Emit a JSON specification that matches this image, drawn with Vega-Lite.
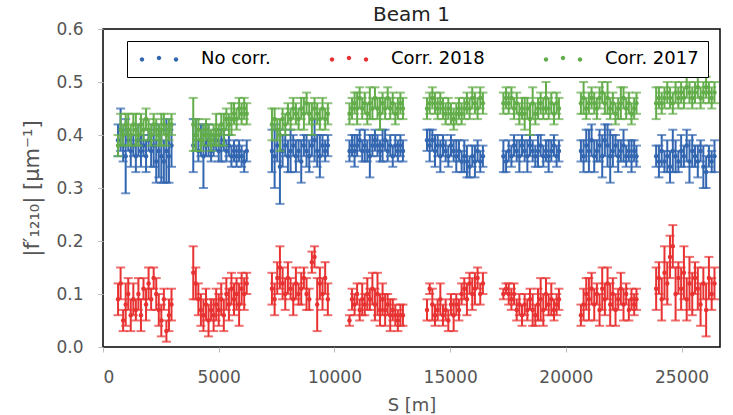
{
  "$schema": "https://vega.github.io/schema/vega-lite/v6.json",
  "width": 617,
  "height": 318,
  "autosize": {"type": "none"},
  "padding": {"left": 103, "top": 29, "right": 13, "bottom": 68},
  "title": {"text": "Beam 1", "fontSize": 20, "fontWeight": "normal", "color": "#222", "offset": -5, "font": "DejaVu Sans"},
  "config": {
    "font": "DejaVu Sans",
    "view": {"stroke": "black", "strokeWidth": 1.5},
    "axis": {"grid": false, "domain": false, "labelFontSize": 17, "labelColor": "#555", "tickColor": "#bbb", "tickSize": 5, "labelPadding": 15, "titleFontSize": 18, "titleColor": "#555", "titleFontWeight": "normal", "labelFont": "DejaVu Sans", "titleFont": "DejaVu Sans"},
    "legend": {
      "orient": "none", "legendX": 24, "legendY": 12, "direction": "horizontal",
      "padding": 9, "strokeColor": "black", "fillColor": "white",
      "labelFontSize": 18, "labelColor": "black", "labelFont": "DejaVu Sans",
      "symbolType": "M-0.87,0.08a0.37,0.37 0 1,0 0.74,0a0.37,0.37 0 1,0 -0.74,0M1.96,-0.17a0.37,0.37 0 1,0 0.74,0a0.37,0.37 0 1,0 -0.74,0M4.8,0.08a0.37,0.37 0 1,0 0.74,0a0.37,0.37 0 1,0 -0.74,0Z",
      "symbolSize": 144, "labelOffset": 47, "columnPadding": 55, "symbolStrokeWidth": 0, "symbolOpacity": 1
    }
  },
  "data": {"values": [
    {"s":650,"n":0.39,"ne":0.03,"r":0.09,"re":0.03,"g":0.38,"ge":0.02},
    {"s":760,"n":0.41,"ne":0.04,"r":0.12,"re":0.03,"g":0.41,"ge":0.03},
    {"s":870,"n":0.38,"ne":0.03,"r":0.05,"re":0.02,"g":0.40,"ge":0.02},
    {"s":980,"n":0.36,"ne":0.07,"r":0.08,"re":0.04,"g":0.42,"ge":0.02},
    {"s":1090,"n":0.39,"ne":0.02,"r":0.10,"re":0.03,"g":0.41,"ge":0.03},
    {"s":1200,"n":0.37,"ne":0.03,"r":0.06,"re":0.03,"g":0.40,"ge":0.02},
    {"s":1310,"n":0.38,"ne":0.02,"r":0.09,"re":0.03,"g":0.42,"ge":0.02},
    {"s":1420,"n":0.36,"ne":0.03,"r":0.07,"re":0.02,"g":0.41,"ge":0.03},
    {"s":1530,"n":0.39,"ne":0.03,"r":0.10,"re":0.03,"g":0.40,"ge":0.02},
    {"s":1640,"n":0.37,"ne":0.03,"r":0.06,"re":0.03,"g":0.42,"ge":0.02},
    {"s":1750,"n":0.38,"ne":0.02,"r":0.11,"re":0.02,"g":0.41,"ge":0.02},
    {"s":1860,"n":0.36,"ne":0.03,"r":0.08,"re":0.03,"g":0.43,"ge":0.02},
    {"s":1970,"n":0.39,"ne":0.02,"r":0.12,"re":0.03,"g":0.41,"ge":0.02},
    {"s":2080,"n":0.37,"ne":0.03,"r":0.09,"re":0.02,"g":0.40,"ge":0.02},
    {"s":2190,"n":0.38,"ne":0.04,"r":0.13,"re":0.02,"g":0.42,"ge":0.02},
    {"s":2300,"n":0.35,"ne":0.04,"r":0.10,"re":0.03,"g":0.41,"ge":0.02},
    {"s":2410,"n":0.37,"ne":0.05,"r":0.07,"re":0.03,"g":0.40,"ge":0.02},
    {"s":2520,"n":0.36,"ne":0.05,"r":0.05,"re":0.03,"g":0.41,"ge":0.03},
    {"s":2630,"n":0.35,"ne":0.04,"r":0.09,"re":0.02,"g":0.42,"ge":0.02},
    {"s":2740,"n":0.37,"ne":0.06,"r":0.03,"re":0.02,"g":0.40,"ge":0.02},
    {"s":2850,"n":0.36,"ne":0.05,"r":0.06,"re":0.03,"g":0.41,"ge":0.02},
    {"s":2960,"n":0.38,"ne":0.04,"r":0.08,"re":0.03,"g":0.42,"ge":0.02},

    {"s":3900,"n":0.38,"ne":0.05,"r":0.14,"re":0.05,"g":0.42,"ge":0.05},
    {"s":4010,"n":0.40,"ne":0.03,"r":0.12,"re":0.03,"g":0.40,"ge":0.03},
    {"s":4120,"n":0.37,"ne":0.02,"r":0.09,"re":0.03,"g":0.41,"ge":0.02},
    {"s":4230,"n":0.39,"ne":0.03,"r":0.07,"re":0.03,"g":0.39,"ge":0.02},
    {"s":4340,"n":0.36,"ne":0.06,"r":0.06,"re":0.03,"g":0.40,"ge":0.02},
    {"s":4450,"n":0.38,"ne":0.02,"r":0.08,"re":0.03,"g":0.41,"ge":0.02},
    {"s":4560,"n":0.39,"ne":0.03,"r":0.05,"re":0.03,"g":0.40,"ge":0.02},
    {"s":4670,"n":0.37,"ne":0.02,"r":0.07,"re":0.02,"g":0.39,"ge":0.02},
    {"s":4780,"n":0.38,"ne":0.02,"r":0.06,"re":0.03,"g":0.40,"ge":0.02},
    {"s":4890,"n":0.39,"ne":0.02,"r":0.08,"re":0.03,"g":0.41,"ge":0.03},
    {"s":5000,"n":0.37,"ne":0.02,"r":0.07,"re":0.03,"g":0.40,"ge":0.02},
    {"s":5110,"n":0.38,"ne":0.03,"r":0.09,"re":0.03,"g":0.42,"ge":0.02},
    {"s":5220,"n":0.39,"ne":0.02,"r":0.06,"re":0.03,"g":0.41,"ge":0.03},
    {"s":5330,"n":0.37,"ne":0.02,"r":0.10,"re":0.03,"g":0.43,"ge":0.02},
    {"s":5440,"n":0.38,"ne":0.02,"r":0.08,"re":0.03,"g":0.42,"ge":0.02},
    {"s":5550,"n":0.36,"ne":0.02,"r":0.11,"re":0.03,"g":0.43,"ge":0.03},
    {"s":5660,"n":0.37,"ne":0.02,"r":0.09,"re":0.03,"g":0.44,"ge":0.02},
    {"s":5770,"n":0.36,"ne":0.02,"r":0.10,"re":0.03,"g":0.43,"ge":0.02},
    {"s":5880,"n":0.37,"ne":0.02,"r":0.08,"re":0.04,"g":0.45,"ge":0.02},
    {"s":5990,"n":0.36,"ne":0.02,"r":0.11,"re":0.03,"g":0.44,"ge":0.02},
    {"s":6100,"n":0.35,"ne":0.02,"r":0.10,"re":0.03,"g":0.45,"ge":0.02},
    {"s":6210,"n":0.37,"ne":0.02,"r":0.12,"re":0.02,"g":0.44,"ge":0.02},

    {"s":7300,"n":0.37,"ne":0.04,"r":0.11,"re":0.03,"g":0.42,"ge":0.03},
    {"s":7415,"n":0.36,"ne":0.06,"r":0.09,"re":0.03,"g":0.43,"ge":0.02},
    {"s":7530,"n":0.38,"ne":0.03,"r":0.13,"re":0.03,"g":0.41,"ge":0.02},
    {"s":7645,"n":0.34,"ne":0.07,"r":0.15,"re":0.04,"g":0.40,"ge":0.03},
    {"s":7760,"n":0.37,"ne":0.03,"r":0.12,"re":0.03,"g":0.43,"ge":0.02},
    {"s":7875,"n":0.38,"ne":0.02,"r":0.10,"re":0.03,"g":0.42,"ge":0.02},
    {"s":7990,"n":0.36,"ne":0.03,"r":0.13,"re":0.03,"g":0.44,"ge":0.02},
    {"s":8105,"n":0.37,"ne":0.04,"r":0.11,"re":0.02,"g":0.43,"ge":0.02},
    {"s":8220,"n":0.38,"ne":0.02,"r":0.09,"re":0.03,"g":0.45,"ge":0.02},
    {"s":8335,"n":0.36,"ne":0.03,"r":0.12,"re":0.03,"g":0.44,"ge":0.02},
    {"s":8450,"n":0.37,"ne":0.02,"r":0.10,"re":0.02,"g":0.43,"ge":0.02},
    {"s":8565,"n":0.35,"ne":0.04,"r":0.11,"re":0.03,"g":0.45,"ge":0.02},
    {"s":8680,"n":0.38,"ne":0.02,"r":0.13,"re":0.02,"g":0.44,"ge":0.03},
    {"s":8795,"n":0.37,"ne":0.03,"r":0.10,"re":0.03,"g":0.46,"ge":0.02},
    {"s":8910,"n":0.36,"ne":0.03,"r":0.09,"re":0.02,"g":0.44,"ge":0.02},
    {"s":9025,"n":0.38,"ne":0.02,"r":0.16,"re":0.02,"g":0.43,"ge":0.03},
    {"s":9140,"n":0.39,"ne":0.04,"r":0.17,"re":0.02,"g":0.45,"ge":0.02},
    {"s":9255,"n":0.37,"ne":0.03,"r":0.08,"re":0.05,"g":0.44,"ge":0.02},
    {"s":9370,"n":0.36,"ne":0.04,"r":0.12,"re":0.03,"g":0.43,"ge":0.02},
    {"s":9485,"n":0.38,"ne":0.02,"r":0.10,"re":0.03,"g":0.45,"ge":0.02},
    {"s":9600,"n":0.37,"ne":0.02,"r":0.13,"re":0.03,"g":0.43,"ge":0.02},
    {"s":9715,"n":0.38,"ne":0.02,"r":0.09,"re":0.03,"g":0.44,"ge":0.02},

    {"s":10650,"n":0.37,"ne":0.02,"r":0.05,"re":0.01,"g":0.44,"ge":0.02},
    {"s":10760,"n":0.38,"ne":0.02,"r":0.09,"re":0.02,"g":0.45,"ge":0.02},
    {"s":10870,"n":0.37,"ne":0.03,"r":0.08,"re":0.02,"g":0.46,"ge":0.02},
    {"s":10980,"n":0.38,"ne":0.02,"r":0.10,"re":0.02,"g":0.45,"ge":0.03},
    {"s":11090,"n":0.39,"ne":0.02,"r":0.07,"re":0.02,"g":0.47,"ge":0.02},
    {"s":11200,"n":0.37,"ne":0.02,"r":0.09,"re":0.03,"g":0.45,"ge":0.02},
    {"s":11310,"n":0.38,"ne":0.03,"r":0.08,"re":0.02,"g":0.46,"ge":0.02},
    {"s":11420,"n":0.37,"ne":0.02,"r":0.10,"re":0.03,"g":0.44,"ge":0.02},
    {"s":11530,"n":0.36,"ne":0.04,"r":0.09,"re":0.02,"g":0.46,"ge":0.03},
    {"s":11640,"n":0.38,"ne":0.02,"r":0.11,"re":0.03,"g":0.45,"ge":0.02},
    {"s":11750,"n":0.39,"ne":0.02,"r":0.08,"re":0.03,"g":0.47,"ge":0.02},
    {"s":11860,"n":0.38,"ne":0.02,"r":0.10,"re":0.04,"g":0.45,"ge":0.02},
    {"s":11970,"n":0.37,"ne":0.02,"r":0.07,"re":0.03,"g":0.44,"ge":0.03},
    {"s":12080,"n":0.38,"ne":0.03,"r":0.09,"re":0.03,"g":0.46,"ge":0.02},
    {"s":12190,"n":0.39,"ne":0.02,"r":0.07,"re":0.03,"g":0.45,"ge":0.02},
    {"s":12300,"n":0.37,"ne":0.02,"r":0.08,"re":0.02,"g":0.47,"ge":0.02},
    {"s":12410,"n":0.38,"ne":0.02,"r":0.06,"re":0.03,"g":0.45,"ge":0.02},
    {"s":12520,"n":0.36,"ne":0.02,"r":0.07,"re":0.02,"g":0.46,"ge":0.02},
    {"s":12630,"n":0.38,"ne":0.02,"r":0.06,"re":0.02,"g":0.44,"ge":0.02},
    {"s":12740,"n":0.37,"ne":0.02,"r":0.05,"re":0.02,"g":0.45,"ge":0.02},
    {"s":12850,"n":0.38,"ne":0.02,"r":0.06,"re":0.02,"g":0.46,"ge":0.02},
    {"s":12960,"n":0.37,"ne":0.02,"r":0.06,"re":0.02,"g":0.45,"ge":0.02},

    {"s":14000,"n":0.39,"ne":0.02,"r":0.07,"re":0.02,"g":0.45,"ge":0.02},
    {"s":14115,"n":0.38,"ne":0.03,"r":0.11,"re":0.01,"g":0.46,"ge":0.02},
    {"s":14230,"n":0.39,"ne":0.02,"r":0.08,"re":0.03,"g":0.47,"ge":0.02},
    {"s":14345,"n":0.37,"ne":0.03,"r":0.06,"re":0.02,"g":0.46,"ge":0.02},
    {"s":14460,"n":0.38,"ne":0.02,"r":0.07,"re":0.02,"g":0.45,"ge":0.02},
    {"s":14575,"n":0.36,"ne":0.03,"r":0.09,"re":0.03,"g":0.46,"ge":0.02},
    {"s":14690,"n":0.38,"ne":0.02,"r":0.06,"re":0.02,"g":0.45,"ge":0.02},
    {"s":14805,"n":0.37,"ne":0.02,"r":0.07,"re":0.02,"g":0.44,"ge":0.02},
    {"s":14920,"n":0.36,"ne":0.02,"r":0.05,"re":0.02,"g":0.45,"ge":0.02},
    {"s":15035,"n":0.38,"ne":0.02,"r":0.08,"re":0.02,"g":0.44,"ge":0.02},
    {"s":15150,"n":0.37,"ne":0.02,"r":0.06,"re":0.03,"g":0.43,"ge":0.02},
    {"s":15265,"n":0.36,"ne":0.03,"r":0.08,"re":0.02,"g":0.44,"ge":0.02},
    {"s":15380,"n":0.37,"ne":0.02,"r":0.07,"re":0.02,"g":0.45,"ge":0.02},
    {"s":15495,"n":0.35,"ne":0.02,"r":0.10,"re":0.02,"g":0.44,"ge":0.02},
    {"s":15610,"n":0.36,"ne":0.03,"r":0.11,"re":0.02,"g":0.45,"ge":0.02},
    {"s":15725,"n":0.35,"ne":0.03,"r":0.09,"re":0.03,"g":0.46,"ge":0.02},
    {"s":15840,"n":0.34,"ne":0.02,"r":0.12,"re":0.02,"g":0.45,"ge":0.02},
    {"s":15955,"n":0.36,"ne":0.02,"r":0.10,"re":0.03,"g":0.47,"ge":0.02},
    {"s":16070,"n":0.35,"ne":0.03,"r":0.11,"re":0.03,"g":0.46,"ge":0.02},
    {"s":16185,"n":0.37,"ne":0.02,"r":0.13,"re":0.02,"g":0.45,"ge":0.02},
    {"s":16300,"n":0.35,"ne":0.02,"r":0.10,"re":0.02,"g":0.47,"ge":0.02},
    {"s":16415,"n":0.36,"ne":0.02,"r":0.12,"re":0.02,"g":0.46,"ge":0.02},

    {"s":17300,"n":0.36,"ne":0.03,"r":0.10,"re":0.01,"g":0.46,"ge":0.02},
    {"s":17415,"n":0.35,"ne":0.02,"r":0.11,"re":0.01,"g":0.47,"ge":0.02},
    {"s":17530,"n":0.37,"ne":0.02,"r":0.10,"re":0.02,"g":0.46,"ge":0.02},
    {"s":17645,"n":0.36,"ne":0.02,"r":0.09,"re":0.02,"g":0.47,"ge":0.02},
    {"s":17760,"n":0.38,"ne":0.02,"r":0.10,"re":0.02,"g":0.45,"ge":0.02},
    {"s":17875,"n":0.37,"ne":0.02,"r":0.07,"re":0.02,"g":0.46,"ge":0.02},
    {"s":17990,"n":0.36,"ne":0.03,"r":0.08,"re":0.02,"g":0.44,"ge":0.02},
    {"s":18105,"n":0.38,"ne":0.02,"r":0.06,"re":0.02,"g":0.45,"ge":0.02},
    {"s":18220,"n":0.37,"ne":0.02,"r":0.08,"re":0.02,"g":0.44,"ge":0.03},
    {"s":18335,"n":0.36,"ne":0.03,"r":0.07,"re":0.02,"g":0.45,"ge":0.02},
    {"s":18450,"n":0.38,"ne":0.02,"r":0.09,"re":0.02,"g":0.43,"ge":0.03},
    {"s":18565,"n":0.37,"ne":0.02,"r":0.07,"re":0.03,"g":0.46,"ge":0.03},
    {"s":18680,"n":0.36,"ne":0.02,"r":0.06,"re":0.02,"g":0.44,"ge":0.02},
    {"s":18795,"n":0.37,"ne":0.03,"r":0.08,"re":0.03,"g":0.45,"ge":0.02},
    {"s":18910,"n":0.38,"ne":0.02,"r":0.09,"re":0.04,"g":0.46,"ge":0.02},
    {"s":19025,"n":0.36,"ne":0.02,"r":0.07,"re":0.03,"g":0.45,"ge":0.02},
    {"s":19140,"n":0.37,"ne":0.02,"r":0.10,"re":0.03,"g":0.47,"ge":0.03},
    {"s":19255,"n":0.36,"ne":0.03,"r":0.08,"re":0.02,"g":0.45,"ge":0.02},
    {"s":19370,"n":0.37,"ne":0.02,"r":0.09,"re":0.03,"g":0.46,"ge":0.02},
    {"s":19485,"n":0.38,"ne":0.02,"r":0.07,"re":0.02,"g":0.44,"ge":0.02},
    {"s":19600,"n":0.36,"ne":0.02,"r":0.08,"re":0.02,"g":0.46,"ge":0.02},
    {"s":19700,"n":0.37,"ne":0.02,"r":0.09,"re":0.02,"g":0.45,"ge":0.02},

    {"s":20650,"n":0.37,"ne":0.02,"r":0.06,"re":0.02,"g":0.46,"ge":0.02},
    {"s":20765,"n":0.36,"ne":0.03,"r":0.08,"re":0.03,"g":0.47,"ge":0.03},
    {"s":20880,"n":0.38,"ne":0.03,"r":0.10,"re":0.03,"g":0.45,"ge":0.02},
    {"s":20995,"n":0.37,"ne":0.04,"r":0.09,"re":0.04,"g":0.46,"ge":0.02},
    {"s":21110,"n":0.39,"ne":0.03,"r":0.11,"re":0.03,"g":0.47,"ge":0.02},
    {"s":21225,"n":0.36,"ne":0.03,"r":0.08,"re":0.03,"g":0.46,"ge":0.02},
    {"s":21340,"n":0.37,"ne":0.02,"r":0.10,"re":0.02,"g":0.45,"ge":0.02},
    {"s":21455,"n":0.38,"ne":0.03,"r":0.07,"re":0.03,"g":0.47,"ge":0.02},
    {"s":21570,"n":0.36,"ne":0.04,"r":0.11,"re":0.04,"g":0.48,"ge":0.02},
    {"s":21685,"n":0.39,"ne":0.03,"r":0.09,"re":0.03,"g":0.46,"ge":0.02},
    {"s":21800,"n":0.38,"ne":0.04,"r":0.12,"re":0.03,"g":0.47,"ge":0.03},
    {"s":21915,"n":0.36,"ne":0.05,"r":0.08,"re":0.04,"g":0.45,"ge":0.02},
    {"s":22030,"n":0.37,"ne":0.03,"r":0.10,"re":0.03,"g":0.46,"ge":0.02},
    {"s":22145,"n":0.38,"ne":0.02,"r":0.07,"re":0.03,"g":0.44,"ge":0.02},
    {"s":22260,"n":0.36,"ne":0.03,"r":0.09,"re":0.02,"g":0.45,"ge":0.02},
    {"s":22375,"n":0.37,"ne":0.02,"r":0.11,"re":0.03,"g":0.46,"ge":0.03},
    {"s":22490,"n":0.38,"ne":0.03,"r":0.08,"re":0.03,"g":0.47,"ge":0.02},
    {"s":22605,"n":0.36,"ne":0.02,"r":0.10,"re":0.02,"g":0.45,"ge":0.02},
    {"s":22720,"n":0.37,"ne":0.02,"r":0.07,"re":0.02,"g":0.46,"ge":0.02},
    {"s":22835,"n":0.36,"ne":0.03,"r":0.09,"re":0.02,"g":0.44,"ge":0.02},
    {"s":22950,"n":0.37,"ne":0.02,"r":0.08,"re":0.02,"g":0.45,"ge":0.02},
    {"s":23050,"n":0.36,"ne":0.02,"r":0.09,"re":0.02,"g":0.46,"ge":0.02},

    {"s":23900,"n":0.36,"ne":0.02,"r":0.11,"re":0.04,"g":0.46,"ge":0.03},
    {"s":24020,"n":0.35,"ne":0.03,"r":0.13,"re":0.03,"g":0.47,"ge":0.02},
    {"s":24140,"n":0.37,"ne":0.03,"r":0.09,"re":0.04,"g":0.46,"ge":0.02},
    {"s":24260,"n":0.35,"ne":0.02,"r":0.14,"re":0.05,"g":0.47,"ge":0.02},
    {"s":24380,"n":0.36,"ne":0.03,"r":0.12,"re":0.04,"g":0.48,"ge":0.02},
    {"s":24500,"n":0.34,"ne":0.03,"r":0.17,"re":0.04,"g":0.47,"ge":0.02},
    {"s":24620,"n":0.37,"ne":0.04,"r":0.19,"re":0.04,"g":0.46,"ge":0.02},
    {"s":24740,"n":0.36,"ne":0.03,"r":0.10,"re":0.05,"g":0.48,"ge":0.02},
    {"s":24860,"n":0.35,"ne":0.02,"r":0.13,"re":0.03,"g":0.47,"ge":0.02},
    {"s":24980,"n":0.37,"ne":0.03,"r":0.11,"re":0.04,"g":0.48,"ge":0.02},
    {"s":25100,"n":0.36,"ne":0.02,"r":0.14,"re":0.05,"g":0.47,"ge":0.02},
    {"s":25220,"n":0.38,"ne":0.03,"r":0.09,"re":0.04,"g":0.49,"ge":0.02},
    {"s":25340,"n":0.35,"ne":0.04,"r":0.12,"re":0.05,"g":0.48,"ge":0.02},
    {"s":25460,"n":0.37,"ne":0.03,"r":0.10,"re":0.04,"g":0.47,"ge":0.02},
    {"s":25580,"n":0.36,"ne":0.02,"r":0.13,"re":0.03,"g":0.48,"ge":0.02},
    {"s":25700,"n":0.35,"ne":0.03,"r":0.11,"re":0.04,"g":0.49,"ge":0.02},
    {"s":25820,"n":0.37,"ne":0.02,"r":0.08,"re":0.04,"g":0.47,"ge":0.02},
    {"s":25940,"n":0.34,"ne":0.04,"r":0.12,"re":0.03,"g":0.48,"ge":0.02},
    {"s":26060,"n":0.33,"ne":0.03,"r":0.07,"re":0.05,"g":0.49,"ge":0.02},
    {"s":26180,"n":0.36,"ne":0.02,"r":0.13,"re":0.04,"g":0.48,"ge":0.02},
    {"s":26300,"n":0.35,"ne":0.02,"r":0.10,"re":0.03,"g":0.47,"ge":0.02},
    {"s":26420,"n":0.36,"ne":0.03,"r":0.12,"re":0.03,"g":0.48,"ge":0.02}
  ]},
  "encoding": {
    "x": {"field": "s", "type": "quantitative", "scale": {"domain": [0, 26659], "nice": false},
          "axis": {"title": "S [m]", "values": [0, 5000, 10000, 15000, 20000, 25000], "format": "d", "titlePadding": 11, "labelPadding": 17}}
  },
  "layer": [
    {"mark": {"type": "errorbar", "ticks": {"size": 9}, "color": "#3366b0", "thickness": 2},
     "encoding": {"y": {"field": "n", "type": "quantitative", "title": "|f′₁₂₁₀| [μm⁻¹]"}, "yError": {"field": "ne"}}},
    {"mark": {"type": "point", "filled": true, "size": 20, "opacity": 1},
     "encoding": {"y": {"field": "n", "type": "quantitative", "scale": {"domain": [0, 0.6], "nice": false},
        "axis": {"title": "|f′₁₂₁₀| [μm⁻¹]", "values": [0, 0.1, 0.2, 0.3, 0.4, 0.5, 0.6], "format": ".1f", "titleFontSize": 21, "titleX": -61, "titleBaseline": "bottom"}},
      "color": {"datum": "No corr.", "type": "nominal", "scale": {"domain": ["No corr.", "Corr. 2018", "Corr. 2017"], "range": ["#3366b0", "#e83232", "#62ad4a"]}, "legend": {"title": null}}}},
    {"mark": {"type": "errorbar", "ticks": {"size": 9}, "color": "#e83232", "thickness": 2},
     "encoding": {"y": {"field": "r", "type": "quantitative", "title": "|f′₁₂₁₀| [μm⁻¹]"}, "yError": {"field": "re"}}},
    {"mark": {"type": "point", "filled": true, "size": 20, "opacity": 1},
     "encoding": {"y": {"field": "r", "type": "quantitative", "title": "|f′₁₂₁₀| [μm⁻¹]"}, "color": {"datum": "Corr. 2018", "type": "nominal"}}},
    {"mark": {"type": "errorbar", "ticks": {"size": 9}, "color": "#62ad4a", "thickness": 2},
     "encoding": {"y": {"field": "g", "type": "quantitative", "title": "|f′₁₂₁₀| [μm⁻¹]"}, "yError": {"field": "ge"}}},
    {"mark": {"type": "point", "filled": true, "size": 20, "opacity": 1},
     "encoding": {"y": {"field": "g", "type": "quantitative", "title": "|f′₁₂₁₀| [μm⁻¹]"}, "color": {"datum": "Corr. 2017", "type": "nominal"}}}
  ]
}
